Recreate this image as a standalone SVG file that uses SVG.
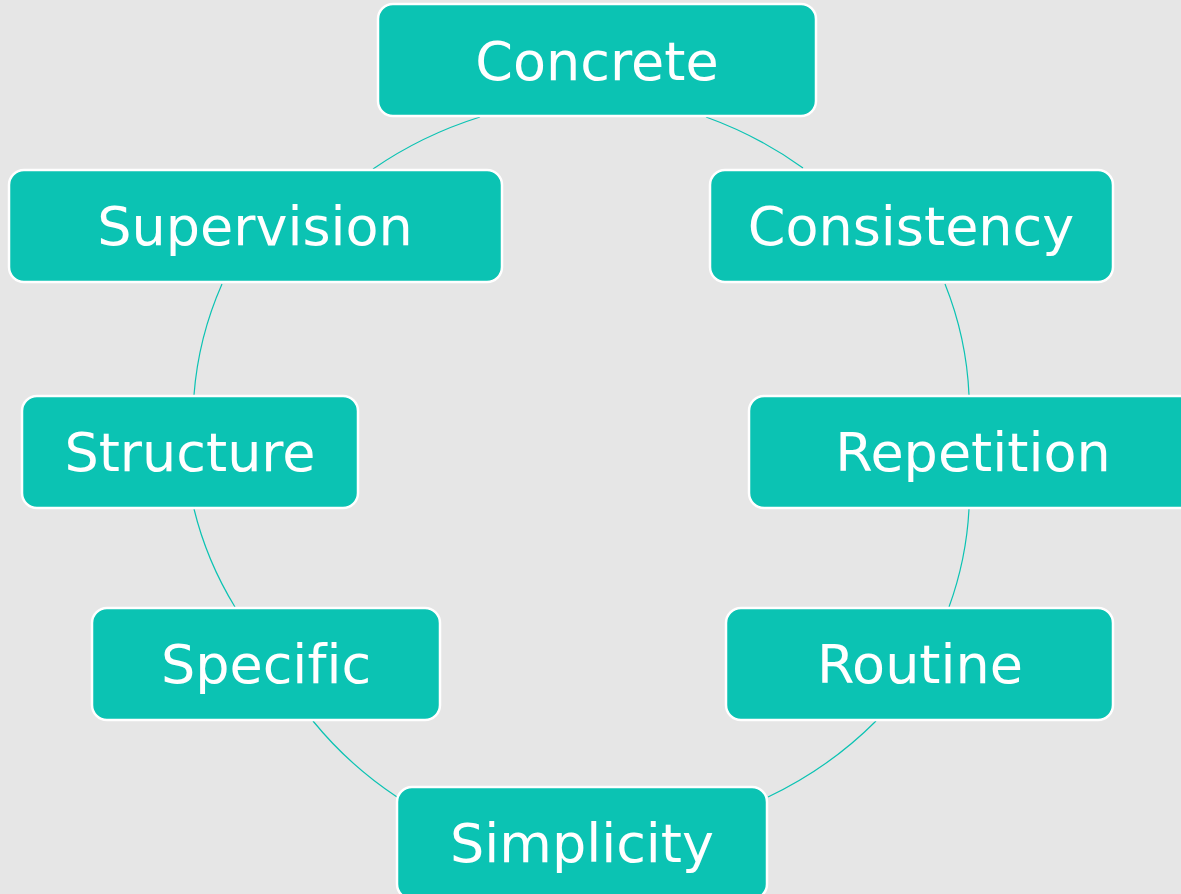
<svg xmlns="http://www.w3.org/2000/svg" width="1181" height="894" viewBox="0 0 1181 894">
<style>
.box{fill:#0bc3b3;stroke:#ffffff;stroke-width:2.5}
.lbl{font-family:"DejaVu Sans",Verdana,sans-serif;font-size:54px;fill:#ffffff;text-anchor:middle;font-variant-ligatures:none}
.con{fill:none;stroke:#0bc3b3;stroke-width:1.2}
</style>
<rect width="1181" height="894" fill="#e6e6e6"/>
<g id="connectors">
<path class="con" d="M480,117 A388,360 0 0 0 373,169"/>
<path class="con" d="M706,117 A388,360 0 0 1 803,168"/>
<path class="con" d="M222,284 A388,360 0 0 0 194,395"/>
<path class="con" d="M945,284 A388,360 0 0 1 969,395"/>
<path class="con" d="M194,509 A388,360 0 0 0 235,607"/>
<path class="con" d="M969,509 A388,360 0 0 1 949,607"/>
<path class="con" d="M313,721 A388,360 0 0 0 397,797"/>
<path class="con" d="M876,721 A388,360 0 0 1 768,797"/>
</g>
<g id="concrete"><rect class="box" x="378" y="4" width="438" height="112" rx="15"/><text class="lbl" x="597" y="80">Concrete</text></g>
<g id="supervision"><rect class="box" x="9" y="170" width="493" height="112" rx="15"/><text class="lbl" x="255" y="245">Supervision</text></g>
<g id="consistency"><rect class="box" x="710" y="170" width="403" height="112" rx="15"/><text class="lbl" x="911" y="245">Consistency</text></g>
<g id="structure"><rect class="box" x="22" y="396" width="336" height="112" rx="15"/><text class="lbl" x="190" y="471">Structure</text></g>
<g id="repetition"><rect class="box" x="749" y="396" width="448" height="112" rx="15"/><text class="lbl" x="973" y="471">Repetition</text></g>
<g id="specific"><rect class="box" x="92" y="608" width="348" height="112" rx="15"/><text class="lbl" x="266" y="683">Specific</text></g>
<g id="routine"><rect class="box" x="726" y="608" width="387" height="112" rx="15"/><text class="lbl" x="920" y="683">Routine</text></g>
<g id="simplicity"><rect class="box" x="397" y="787" width="370" height="112" rx="15"/><text class="lbl" x="582" y="862">Simplicity</text></g>
</svg>
